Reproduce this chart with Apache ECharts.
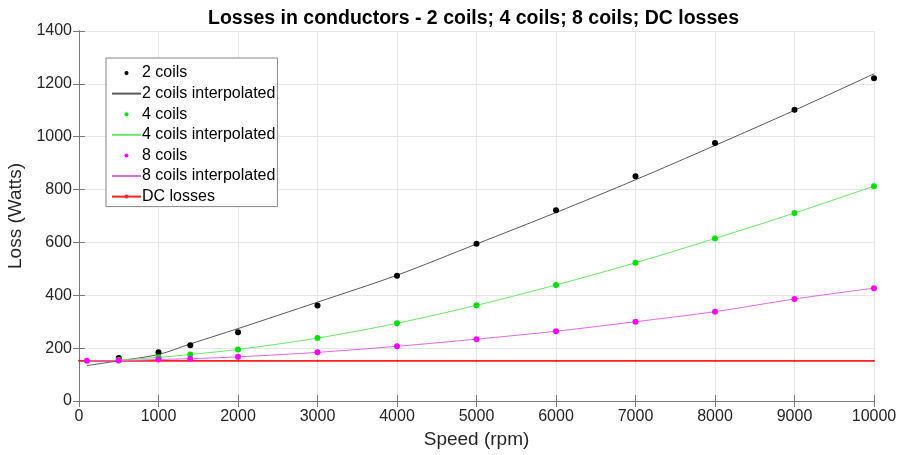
<!DOCTYPE html>
<html>
<head>
<meta charset="utf-8">
<script src="https://cdn.jsdelivr.net/npm/echarts@6/dist/echarts.min.js"></script>
<style>
html,body{margin:0;padding:0;background:#fff;}
#c{width:898px;height:455px;}
</style>
</head>
<body>
<div id="c"></div>
<script>
// ---- data ----
const speeds2 = [500, 1000, 1400, 2000, 3000, 4000, 5000, 6000, 7000, 8000, 9000, 10000];
const loss2 = [163, 184, 211, 260, 361, 474, 595, 722, 850, 976, 1102, 1221];
const fitSpeed2 = [100, 500, 1000, 1400, 2000, 3000, 4000, 5000, 6000, 7000, 8000, 9000, 10000];
const fitLoss2 = [134, 152, 176, 216, 274, 374, 476, 594, 713, 837, 967, 1100, 1238];

const speeds4 = [500, 1000, 1400, 2000, 3000, 4000, 5000, 6000, 7000, 8000, 9000, 10000];
const loss4 = [156, 166, 176, 195, 238, 294, 362, 439, 523, 615, 711, 813];
const fitSpeed4 = [500, 1000, 1400, 2000, 3000, 4000, 5000, 6000, 7000, 8000, 9000, 10000];
const fitLoss4 = [155, 165, 176, 195, 238, 294, 362, 439, 523, 615, 711, 813];

const speeds8 = [100, 500, 1000, 1400, 2000, 3000, 4000, 5000, 6000, 7000, 8000, 9000, 10000];
const loss8 = [152, 153, 157, 160, 167, 184, 207, 234, 264, 300, 338, 386, 427];
const fitSpeed8 = [100, 500, 1000, 1400, 2000, 3000, 4000, 5000, 6000, 7000, 8000, 9000, 10000];
const fitLoss8 = [152, 153, 157, 160, 167, 184, 207, 234, 264, 300, 338, 386, 427];

const dcSpeed = [0, 1000, 2000, 3000, 4000, 5000, 6000, 7000, 8000, 9000, 10000];
const dcLoss = [152, 152, 152, 152, 152, 152, 152, 152, 152, 152, 152];

const xTicks = [0, 1000, 2000, 3000, 4000, 5000, 6000, 7000, 8000, 9000, 10000];
const yTicks = [0, 200, 400, 600, 800, 1000, 1200, 1400];

const names = ['2 coils', '2 coils interpolated', '4 coils', '4 coils interpolated',
               '8 coils', '8 coils interpolated', 'DC losses'];

function pairs(xs, ys) { return xs.map((x, i) => [x, ys[i]]); }

const FONT = 'Liberation Sans, Arial, Helvetica, sans-serif';
const AX = '#7a7a7a';

function pointSeries(name, xs, ys, color) {
  return {
    name, type: 'line', data: pairs(xs, ys),
    symbol: 'circle', symbolSize: 6, showSymbol: true,
    itemStyle: { color },
    lineStyle: { opacity: 0, width: 1, color },
    z: 5, silent: true, animation: false
  };
}
function fitSeries(name, xs, ys, color, smooth) {
  return {
    name, type: 'line', data: pairs(xs, ys),
    symbol: 'none', smooth: smooth,
    itemStyle: { color },
    lineStyle: { width: 1, color },
    z: 4, silent: true, animation: false
  };
}

const baseAxis = {
  axisLine: { show: true, lineStyle: { color: AX, width: 1 } },
  axisTick: { show: true, inside: true, length: 6, lineStyle: { color: AX } },
};

const legendData = names.map(n => n.indexOf('interpolated') > -1
  ? { name: n, itemStyle: { opacity: 0 } }
  : { name: n });

const option = {
  backgroundColor: '#fff',
  animation: false,
  title: {
    text: 'Losses in conductors - 2 coils; 4 coils; 8 coils; DC losses',
    left: 203, top: 4,
    textStyle: { fontFamily: FONT, fontSize: 19.5, fontWeight: 'bold', color: '#000' }
  },
  grid: { left: 79, right: 24, top: 31, bottom: 54, containLabel: false, outerBoundsMode: 'none' },
  legend: {
    orient: 'vertical', left: 106, top: 58,
    data: legendData,
    itemWidth: 29, itemHeight: 5, itemGap: 4.6,
    padding: [7, 2, 2, 5],
    backgroundColor: '#fff', borderColor: '#888', borderWidth: 1,
    textStyle: { fontFamily: FONT, fontSize: 16, color: '#000', lineHeight: 16, padding: [0, 0, 0, -4] },
    selectedMode: false
  },
  xAxis: [
    Object.assign({}, baseAxis, {
      type: 'value', min: 0, max: 10000, interval: 1000,
      name: 'Speed (rpm)', nameLocation: 'middle', nameGap: 29,
      nameTextStyle: { fontFamily: FONT, fontSize: 19, color: '#262626' },
      axisLabel: { fontFamily: FONT, fontSize: 16, color: '#262626', margin: 8,
        formatter: v => xTicks.includes(v) ? String(v) : '' },
      splitLine: { show: true, lineStyle: { color: '#e6e6e6', width: 1 } }
    }),
    Object.assign({}, baseAxis, {
      type: 'value', min: 0, max: 10000, interval: 1000, position: 'top',
      axisLabel: { show: false }, splitLine: { show: false }
    })
  ],
  yAxis: [
    Object.assign({}, baseAxis, {
      type: 'value', min: 0, max: 1400, interval: 200,
      name: 'Loss (Watts)', nameLocation: 'middle', nameGap: 47,
      nameTextStyle: { fontFamily: FONT, fontSize: 19, color: '#262626' },
      axisLabel: { fontFamily: FONT, fontSize: 16, color: '#262626', margin: 7,
        formatter: v => yTicks.includes(v) ? String(v) : '' },
      splitLine: { show: true, lineStyle: { color: '#e6e6e6', width: 1 } }
    }),
    Object.assign({}, baseAxis, {
      type: 'value', min: 0, max: 1400, interval: 200, position: 'right',
      axisLabel: { show: false }, splitLine: { show: false }
    })
  ],
  series: [
    pointSeries(names[0], speeds2, loss2, '#000000'),
    fitSeries(names[1], fitSpeed2, fitLoss2, '#5a5a5a', 0.3),
    pointSeries(names[2], speeds4, loss4, '#00e000'),
    fitSeries(names[3], fitSpeed4, fitLoss4, '#66ea66', 0.3),
    pointSeries(names[4], speeds8, loss8, '#ff00ff'),
    fitSeries(names[5], fitSpeed8, fitLoss8, '#e466ea', 0.3),
    {
      name: names[6], type: 'line', data: pairs(dcSpeed, dcLoss),
      symbol: 'circle', symbolSize: 2, showSymbol: true,
      itemStyle: { color: '#ff2020' },
      lineStyle: { width: 1.6, color: '#ff2020' },
      z: 3, silent: true, animation: false
    }
  ]
};

const chart = echarts.init(document.getElementById('c'), null, { renderer: 'canvas' });
chart.setOption(option);
</script>
</body>
</html>
